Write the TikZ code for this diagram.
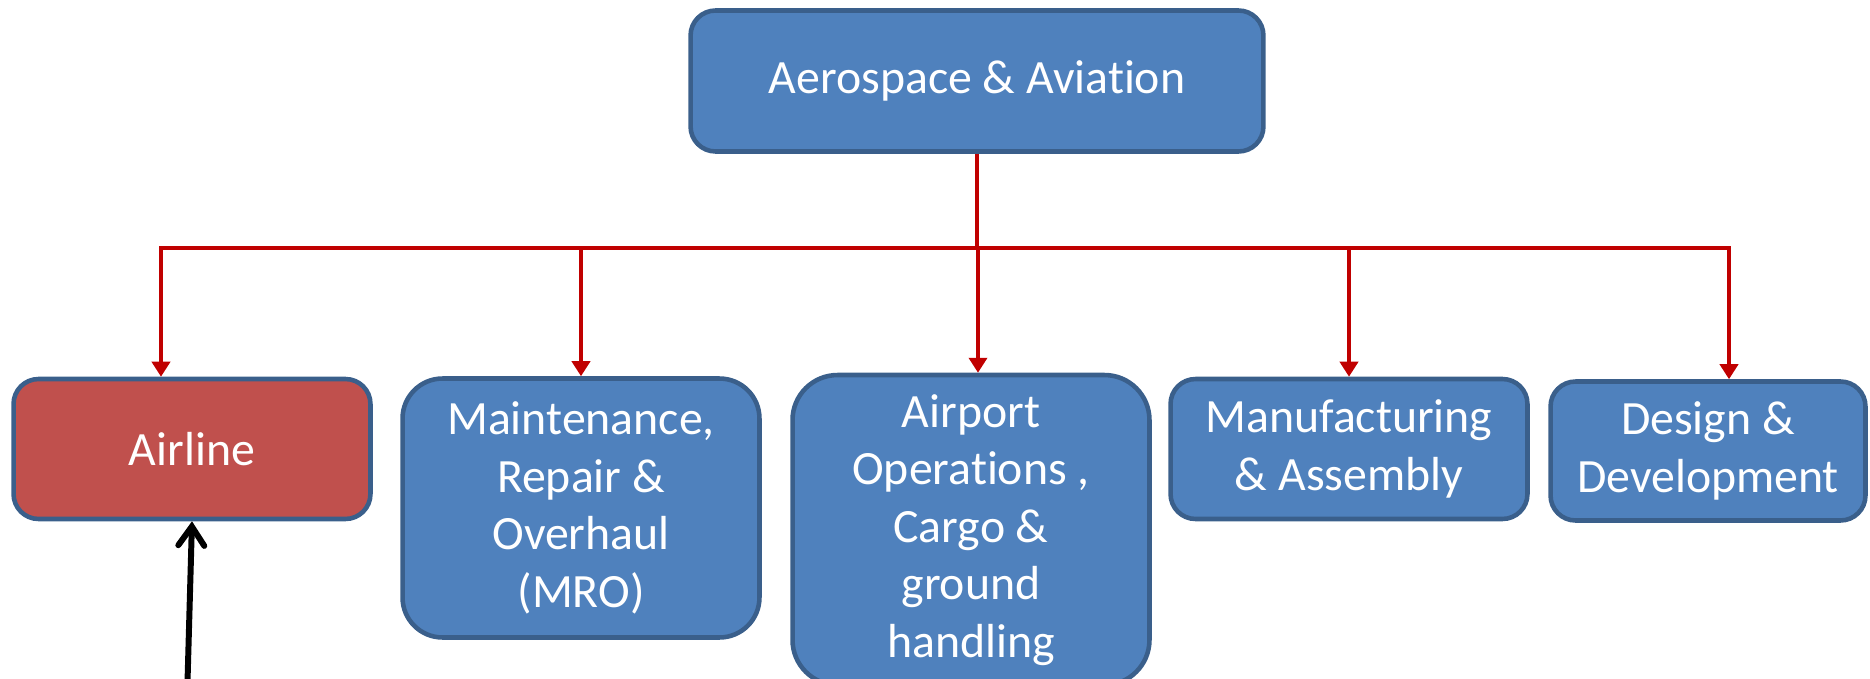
\documentclass[tikz,border=0pt]{standalone}
\usepackage{fontspec}
\setmainfont{Carlito}[Ligatures=NoCommon]
\usetikzlibrary{arrows.meta,positioning}
\definecolor{unitblue}{HTML}{4F81BD}
\definecolor{unitedge}{HTML}{3A5F8B}
\definecolor{unitred}{HTML}{C0504D}
\definecolor{linkred}{HTML}{C00000}

\begin{document}
\begin{tikzpicture}[x=0.02cm, y=-0.02cm,
        every node/.style={font=\fontsize{27.2}{32.8}\selectfont, text=white, align=center, inner sep=0pt},
        unit/.style={draw=unitedge, line width=2.6pt, fill=unitblue, rounded corners=0.5cm,
            minimum width=7.14cm, minimum height=2.8cm},
        link/.style={draw=linkred, line width=2.6pt},
        >={Triangle[width=0.36cm,length=0.3cm]}]
        \useasboundingbox (0,0) rectangle (1870,679);
        \clip (0,0) rectangle (1870,679);
        % root
        \node[unit, minimum width=11.46cm, minimum height=2.82cm] (root) at (977,81) {Aerospace \& Aviation};
        % sectors
        \node[unit, fill=unitred] (air) at (192,449) {Airline};
        \node[unit, minimum height=5.18cm, rounded corners=0.8cm] (mro) at (581,508) {Maintenance,\\Repair \&\\Overhaul\\(MRO)};
        \node[unit, minimum height=6.2cm, rounded corners=0.9cm] (apt) at (971,530) {Airport\\Operations ,\\Cargo \&\\ground\\handling};
        \node[unit] (mfg) at (1349,449) {Manufacturing\\\& Assembly};
        \node[unit, minimum width=6.3cm, minimum height=2.78cm] (dev) at (1708,451) {Design \&\\Development};
        % bus and drop arrows
        \foreach \x/\n in {161/air, 581/mro, 978/apt, 1349/mfg, 1729/dev} {
            \coordinate (j\n) at (\x,248);
            \draw[link,->] (j\n) -- (j\n |- \n.north);
        }
        \draw[link] (root.south) -- (root.south |- jair);
        \draw[link, line cap=rect] (jair) -- (jdev);
        % feed into airline
        \coordinate (feed) at (187,700);
        \draw[line width=3.4pt, -{Straight Barb[width=0.52cm,length=0.38cm,line cap=round]}] (feed) -- (air.south);
    \end{tikzpicture}
\end{document}
